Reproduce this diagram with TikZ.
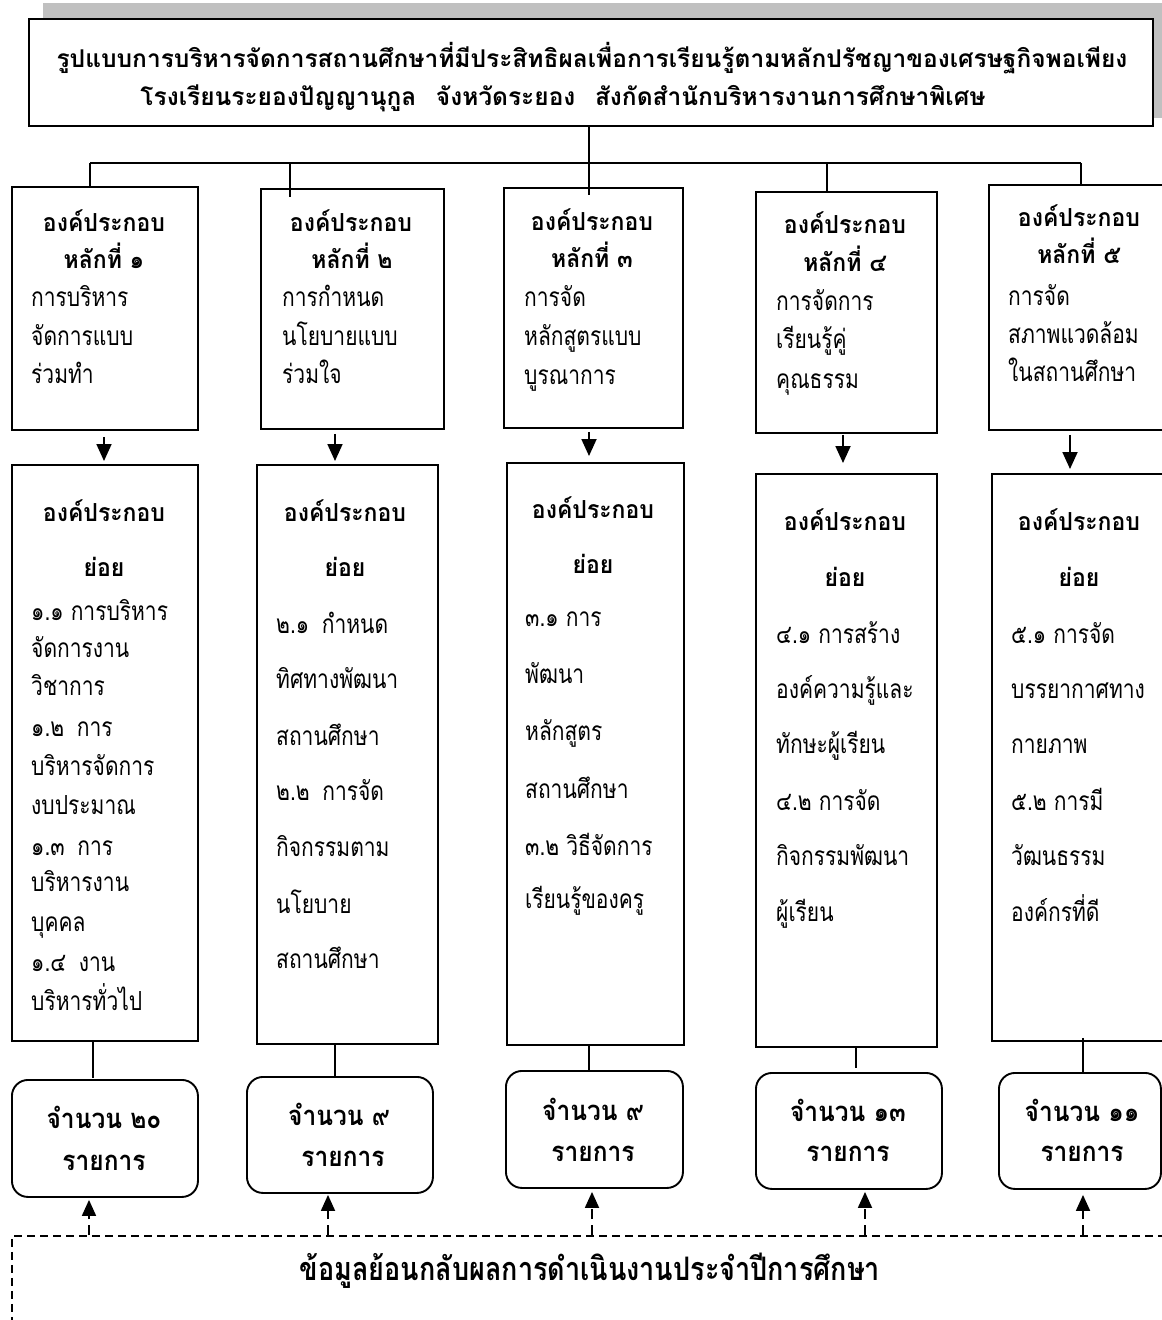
\documentclass[tikz,border=0pt]{standalone}
\usepackage{fontspec}
\usepackage{graphicx}
\setmainfont[Script=Thai]{Loma}
\usetikzlibrary{arrows.meta,calc}
\tikzset{
  box/.style={draw=black, line width=1.9pt, fill=white, rectangle, anchor=north west, inner sep=0pt},
  cbox/.style={box, rounded corners=16pt},
  ln/.style={draw=black, line width=1.8pt},
  arr/.style={ln, -{Triangle[length=17pt,width=15pt]}},
  darr/.style={ln, dash pattern=on 10pt off 6pt, -{Triangle[length=16pt,width=14pt]}},
  txt/.style={font=\fontsize{21}{25}\selectfont, inner sep=0pt, anchor=mid west, yshift=-6pt},
  hdr/.style={font=\bfseries\fontsize{23}{27}\selectfont, inner sep=0pt, anchor=mid, yshift=-6pt},
  cnt/.style={font=\bfseries\fontsize{24.5}{28}\selectfont, inner sep=0pt, anchor=mid, yshift=-6pt},
  ttl/.style={font=\bfseries\fontsize{24.5}{28}\selectfont, inner sep=0pt, anchor=mid, yshift=-6pt},
  fbs/.style={font=\bfseries\fontsize{27}{31}\selectfont, inner sep=0pt, anchor=mid, yshift=-8pt},
}
\newcommand\TxL[4]{\node[txt] (#1) at (#2,#3) {\scalebox{1}[1.25]{#4}};}
\newcommand\TxH[4]{\node[hdr] (#1) at (#2,#3) {\scalebox{1}[1.08]{#4}};}
\newcommand\TxC[4]{\node[cnt] (#1) at (#2,#3) {\scalebox{1}[1.12]{#4}};}
\begin{document}
\begin{tikzpicture}[x=1pt,y=-1pt]
\useasboundingbox (0,0) rectangle (1162,1320);
\clip (0,0) rectangle (1162,1320);
% shadow and title
\fill[fill={rgb,255:red,192;green,192;blue,192}] (43,3) rectangle (1175,118);
\node[box, minimum width=1124pt, minimum height=107pt] (title) at (28,18) {};
\node[ttl] (tl1) at (592,59) {รูปแบบการบริหารจัดการสถานศึกษาที่มีประสิทธิผลเพื่อการเรียนรู้ตามหลักปรัชญาของเศรษฐกิจพอเพียง};
\node[ttl] (tl2) at (563,97) {โรงเรียนระยองปัญญานุกูล\hspace{0.8em}จังหวัดระยอง\hspace{0.8em}สังกัดสำนักบริหารงานการศึกษาพิเศษ};
% top boxes
\node[box, minimum width=186pt, minimum height=243pt] (b1) at (11,186) {};
\node[box, minimum width=183pt, minimum height=240pt] (b2) at (260,188) {};
\node[box, minimum width=179pt, minimum height=240pt] (b3) at (503,187) {};
\node[box, minimum width=181pt, minimum height=241pt] (b4) at (755,191) {};
\node[box, minimum width=200pt, minimum height=245pt] (b5) at (988,184) {};
% middle boxes
\node[box, minimum width=186pt, minimum height=576pt] (m1) at (11,464) {};
\node[box, minimum width=181pt, minimum height=579pt] (m2) at (256,464) {};
\node[box, minimum width=177pt, minimum height=582pt] (m3) at (506,462) {};
\node[box, minimum width=181pt, minimum height=573pt] (m4) at (755,473) {};
\node[box, minimum width=200pt, minimum height=567pt] (m5) at (991,473) {};
% count boxes
\node[cbox, minimum width=186pt, minimum height=117pt] (c1) at (11,1079) {};
\node[cbox, minimum width=186pt, minimum height=116pt] (c2) at (246,1076) {};
\node[cbox, minimum width=177pt, minimum height=117pt] (c3) at (505,1070) {};
\node[cbox, minimum width=186pt, minimum height=116pt] (c4) at (755,1072) {};
\node[cbox, minimum width=162pt, minimum height=116pt] (c5) at (998,1072) {};
% feedback box
\node[box, fill=none, dash pattern=on 8pt off 5pt, line width=1.6pt, minimum width=1180pt, minimum height=120pt] (fb) at (11,1235) {};
\node[fbs] (fbt) at (590,1270) {\scalebox{1}[1.2]{ข้อมูลย้อนกลับผลการดำเนินงานประจำปีการศึกษา}};
% tree connectors
\coordinate (j1) at (90,163);
\coordinate (j2) at (290,163);
\coordinate (j3) at (589,163);
\coordinate (j4) at (827,163);
\coordinate (j5) at (1081,163);
\draw[ln] (title.south -| j3) -- (j3);
\draw[ln] (j1) -- (j5);
\draw[ln] (j1) -- (j1 |- b1.north);
\draw[ln] (j2) -- ($(j2 |- b2.north)+(0,9)$);
\draw[ln] (j3) -- ($(j3 |- b3.north)+(0,8)$);
\draw[ln] (j4) -- (j4 |- b4.north);
\draw[ln] (j5) -- (j5 |- b5.north);
% arrows top -> middle
\draw[arr] ($(b1.south west)+(93,6)$) -- ($(m1.north west)+(93,-3)$);
\draw[arr] ($(b2.south west)+(75,4)$) -- ($(m2.north west)+(79,-3)$);
\draw[arr] ($(b3.south west)+(86,3)$) -- ($(m3.north west)+(83,-6)$);
\draw[arr] ($(b4.south west)+(88,1)$) -- ($(m4.north west)+(88,-10)$);
\draw[arr] ($(b5.south west)+(82,4)$) -- ($(m5.north west)+(79,-4)$);
% middle -> count
\draw[ln] ($(m1.south west)+(82,0)$) -- ($(c1.north west)+(82,-1)$);
\draw[ln] ($(m2.south west)+(79,0)$) -- ($(c2.north west)+(89,2)$);
\draw[ln] ($(m3.south west)+(83,0)$) -- ($(c3.north west)+(84,0)$);
\draw[ln] ($(m4.south west)+(101,0)$) -- ($(c4.north west)+(101,-4)$);
\draw[ln] ($(m5.south west)+(92,-4)$) -- ($(c5.north west)+(85,0)$);
% feedback arrows
\draw[darr] ($(fb.north west)+(78,0)$) -- ($(c1.south west)+(78,2)$);
\draw[darr] ($(fb.north west)+(317,0)$) -- ($(c2.south west)+(82,1)$);
\draw[darr] ($(fb.north west)+(581,0)$) -- ($(c3.south west)+(87,3)$);
\draw[darr] ($(fb.north west)+(854,0)$) -- ($(c4.south west)+(110,2)$);
\draw[darr] ($(fb.north west)+(1072,0)$) -- ($(c5.south west)+(85,5)$);
% top box texts
\TxH{h1a}{104}{223}{องค์ประกอบ}
\TxH{h1b}{104}{260}{หลักที่ ๑}
\TxL{t1a}{31}{298}{การบริหาร}
\TxL{t1b}{31}{337}{จัดการแบบ}
\TxL{t1c}{31}{375}{ร่วมทำ}
\TxH{h2a}{351}{223}{องค์ประกอบ}
\TxH{h2b}{352}{260}{หลักที่ ๒}
\TxL{t2a}{282}{298}{การกำหนด}
\TxL{t2b}{282}{337}{นโยบายแบบ}
\TxL{t2c}{282}{375}{ร่วมใจ}
\TxH{h3a}{592}{222}{องค์ประกอบ}
\TxH{h3b}{592}{259}{หลักที่ ๓}
\TxL{t3a}{524}{298}{การจัด}
\TxL{t3b}{524}{337}{หลักสูตรแบบ}
\TxL{t3c}{524}{376}{บูรณาการ}
\TxH{h4a}{845}{225}{องค์ประกอบ}
\TxH{h4b}{845}{263}{หลักที่ ๔}
\TxL{t4a}{776}{302}{การจัดการ}
\TxL{t4b}{776}{340}{เรียนรู้คู่}
\TxL{t4c}{776}{380}{คุณธรรม}
\TxH{h5a}{1079}{218}{องค์ประกอบ}
\TxH{h5b}{1079}{255}{หลักที่ ๕}
\TxL{t5a}{1008}{297}{การจัด}
\TxL{t5b}{1008}{335}{สภาพแวดล้อม}
\TxL{t5c}{1008}{373}{ในสถานศึกษา}
% middle box texts
\TxH{k1a}{104}{513}{องค์ประกอบ}
\TxH{k1b}{104}{568}{ย่อย}
\TxL{s1a}{31}{612}{๑.๑ การบริหาร}
\TxL{s1b}{31}{649}{จัดการงาน}
\TxL{s1c}{31}{687}{วิชาการ}
\TxL{s1d}{31}{728}{๑.๒\hspace{0.6em}การ}
\TxL{s1e}{31}{767}{บริหารจัดการ}
\TxL{s1f}{31}{806}{งบประมาณ}
\TxL{s1g}{31}{847}{๑.๓\hspace{0.6em}การ}
\TxL{s1h}{31}{883}{บริหารงาน}
\TxL{s1i}{31}{923}{บุคคล}
\TxL{s1j}{31}{963}{๑.๔\hspace{0.6em}งาน}
\TxL{s1k}{31}{1002}{บริหารทั่วไป}
\TxH{k2a}{345}{513}{องค์ประกอบ}
\TxH{k2b}{345}{568}{ย่อย}
\TxL{s2a}{276}{625}{๒.๑\hspace{0.6em}กำหนด}
\TxL{s2b}{276}{680}{ทิศทางพัฒนา}
\TxL{s2c}{276}{737}{สถานศึกษา}
\TxL{s2d}{276}{792}{๒.๒\hspace{0.6em}การจัด}
\TxL{s2e}{276}{848}{กิจกรรมตาม}
\TxL{s2f}{276}{905}{นโยบาย}
\TxL{s2g}{276}{960}{สถานศึกษา}
\TxH{k3a}{593}{510}{องค์ประกอบ}
\TxH{k3b}{593}{565}{ย่อย}
\TxL{s3a}{525}{618}{๓.๑ การ}
\TxL{s3b}{525}{675}{พัฒนา}
\TxL{s3c}{525}{732}{หลักสูตร}
\TxL{s3d}{525}{790}{สถานศึกษา}
\TxL{s3e}{525}{847}{๓.๒ วิธีจัดการ}
\TxL{s3f}{525}{900}{เรียนรู้ของครู}
\TxH{k4a}{845}{522}{องค์ประกอบ}
\TxH{k4b}{845}{578}{ย่อย}
\TxL{s4a}{776}{635}{๔.๑ การสร้าง}
\TxL{s4b}{776}{690}{องค์ความรู้และ}
\TxL{s4c}{776}{745}{ทักษะผู้เรียน}
\TxL{s4d}{776}{802}{๔.๒ การจัด}
\TxL{s4e}{776}{857}{กิจกรรมพัฒนา}
\TxL{s4f}{776}{913}{ผู้เรียน}
\TxH{k5a}{1079}{522}{องค์ประกอบ}
\TxH{k5b}{1079}{578}{ย่อย}
\TxL{s5a}{1011}{635}{๕.๑ การจัด}
\TxL{s5b}{1011}{690}{บรรยากาศทาง}
\TxL{s5c}{1011}{745}{กายภาพ}
\TxL{s5d}{1011}{802}{๕.๒ การมี}
\TxL{s5e}{1011}{857}{วัฒนธรรม}
\TxL{s5f}{1011}{913}{องค์กรที่ดี}
% count texts
\TxC{n1a}{104}{1120}{จำนวน ๒๐}
\TxC{n1b}{104}{1162}{รายการ}
\TxC{n2a}{339}{1117}{จำนวน ๙}
\TxC{n2b}{343}{1158}{รายการ}
\TxC{n3a}{593}{1112}{จำนวน ๙}
\TxC{n3b}{593}{1153}{รายการ}
\TxC{n4a}{848}{1113}{จำนวน ๑๓}
\TxC{n4b}{848}{1153}{รายการ}
\TxC{n5a}{1082}{1113}{จำนวน ๑๑}
\TxC{n5b}{1082}{1153}{รายการ}
\end{tikzpicture}
\end{document}
